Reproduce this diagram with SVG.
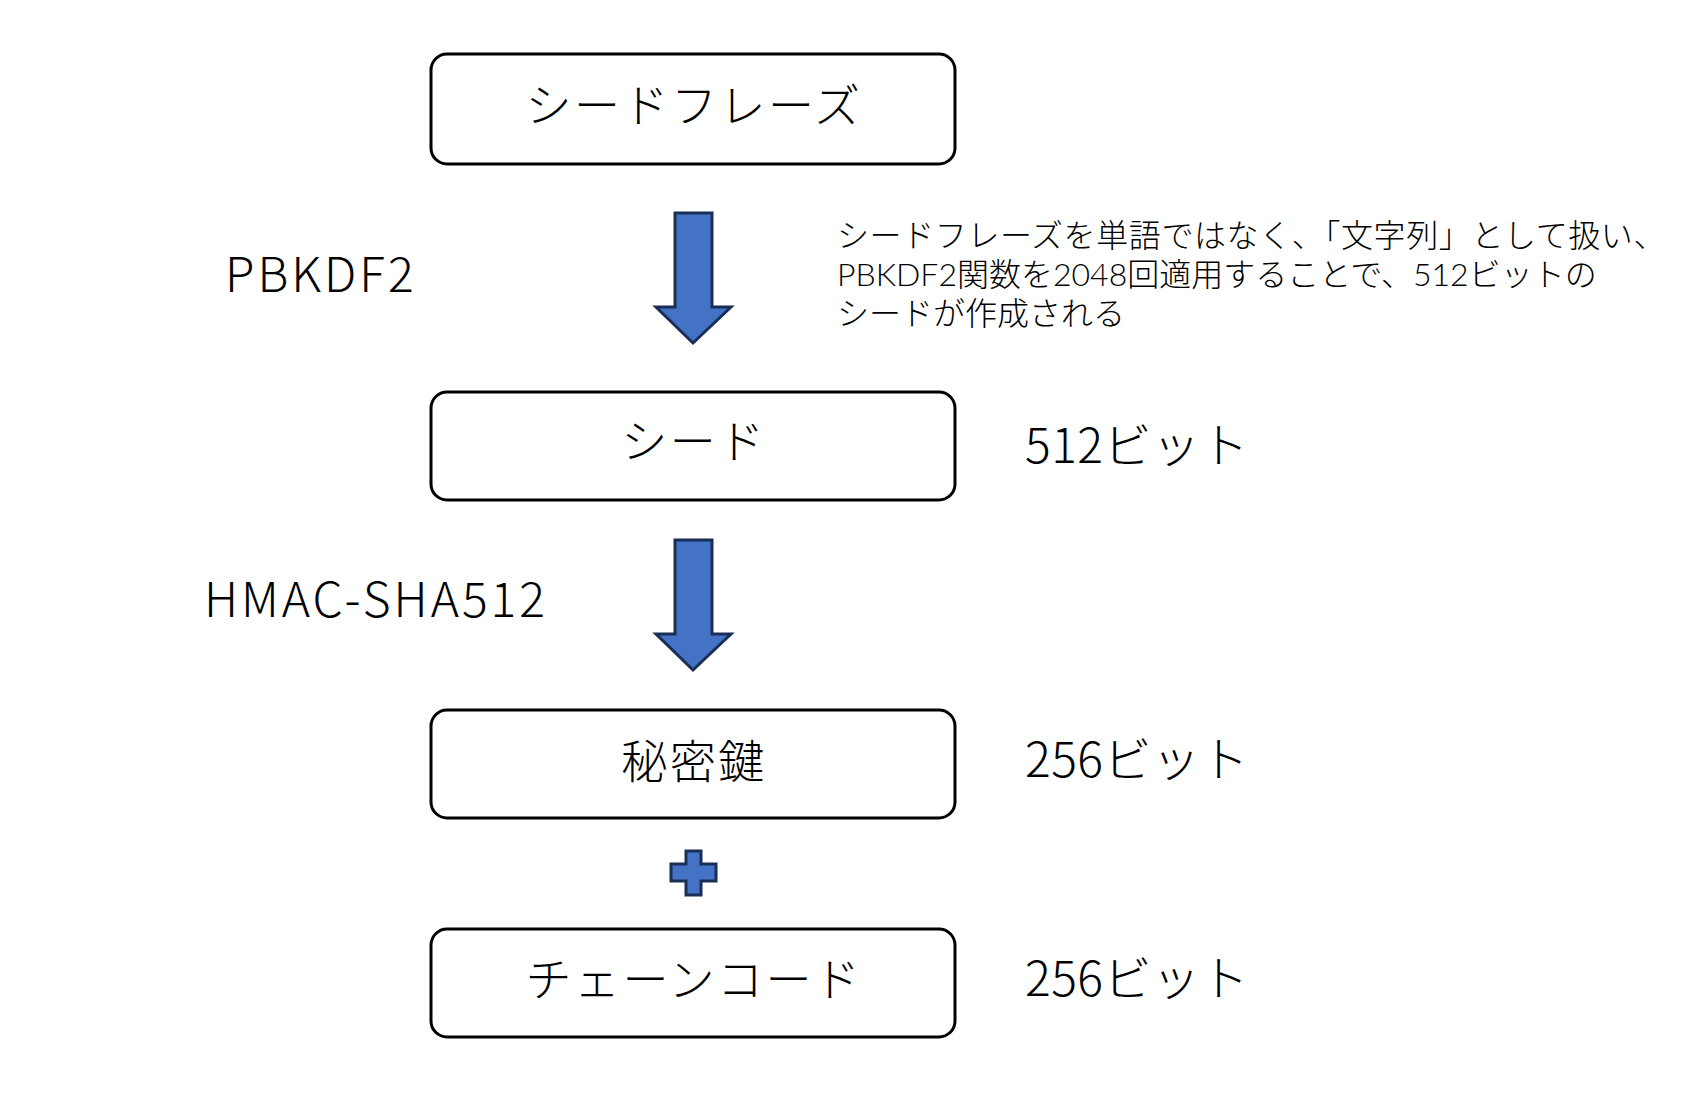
<svg xmlns="http://www.w3.org/2000/svg" width="1682" height="1108" viewBox="0 0 1682 1108">
<style>
.box{fill:#fff;stroke:#000;stroke-width:3}
.blk{fill:#4472c4;stroke:#1a2f57;stroke-width:3;stroke-linejoin:miter}
.bt{font-family:"Noto Sans CJK JP",sans-serif;font-size:46px;font-weight:300;letter-spacing:2.5px;fill:#000;text-anchor:middle}
.lab{font-family:"Noto Sans CJK JP",sans-serif;font-size:48px;font-weight:300;fill:#000}
.desc{font-family:Lato,"Noto Sans CJK JP",sans-serif;font-size:32px;font-weight:300;fill:#000}
</style>
<rect width="1682" height="1108" fill="#fff"/>
<g id="node-seedphrase">
<rect class="box" x="431" y="54" width="524" height="110" rx="16"/>
<text class="bt" x="694" y="122">シードフレーズ</text>
</g>
<g id="node-seed">
<rect class="box" x="431" y="392" width="524" height="108" rx="16"/>
<text class="bt" x="694" y="458">シード</text>
</g>
<g id="node-privkey">
<rect class="box" x="431" y="710" width="524" height="108" rx="16"/>
<text class="bt" x="694" y="778">秘密鍵</text>
</g>
<g id="node-chaincode">
<rect class="box" x="431" y="929" width="524" height="108" rx="16"/>
<text class="bt" x="694" y="996">チェーンコード</text>
</g>
<g id="connectors">
<polygon class="blk" points="675,213 712,213 712,307 731,307 693,343 656,307 675,307"/>
<polygon class="blk" points="675,540 712,540 712,634 731,634 693,670 656,634 675,634"/>
<polygon class="blk" points="686,851 701,851 701,864 716,864 716,881 701,881 701,895 686,895 686,881 671,881 671,864 686,864"/>
</g>
<g id="labels">
<text class="lab" x="225" y="292" letter-spacing="3">PBKDF2</text>
<text class="lab" x="204" y="617" letter-spacing="3">HMAC-SHA512</text>
<text class="lab" x="1025" y="463" letter-spacing="0.5">512ビット</text>
<text class="lab" x="1025" y="777" letter-spacing="0.5">256ビット</text>
<text class="lab" x="1025" y="996" letter-spacing="0.5">256ビット</text>
</g>
<g id="description">
<text class="desc" x="837" y="247" letter-spacing="0.6">シードフレーズを単語ではなく、「文字列」として扱い、</text>
<text class="desc" x="837" y="286">PBKDF2関数を2048回適用することで、512ビットの</text>
<text class="desc" x="837" y="325">シードが作成される</text>
</g>
</svg>
